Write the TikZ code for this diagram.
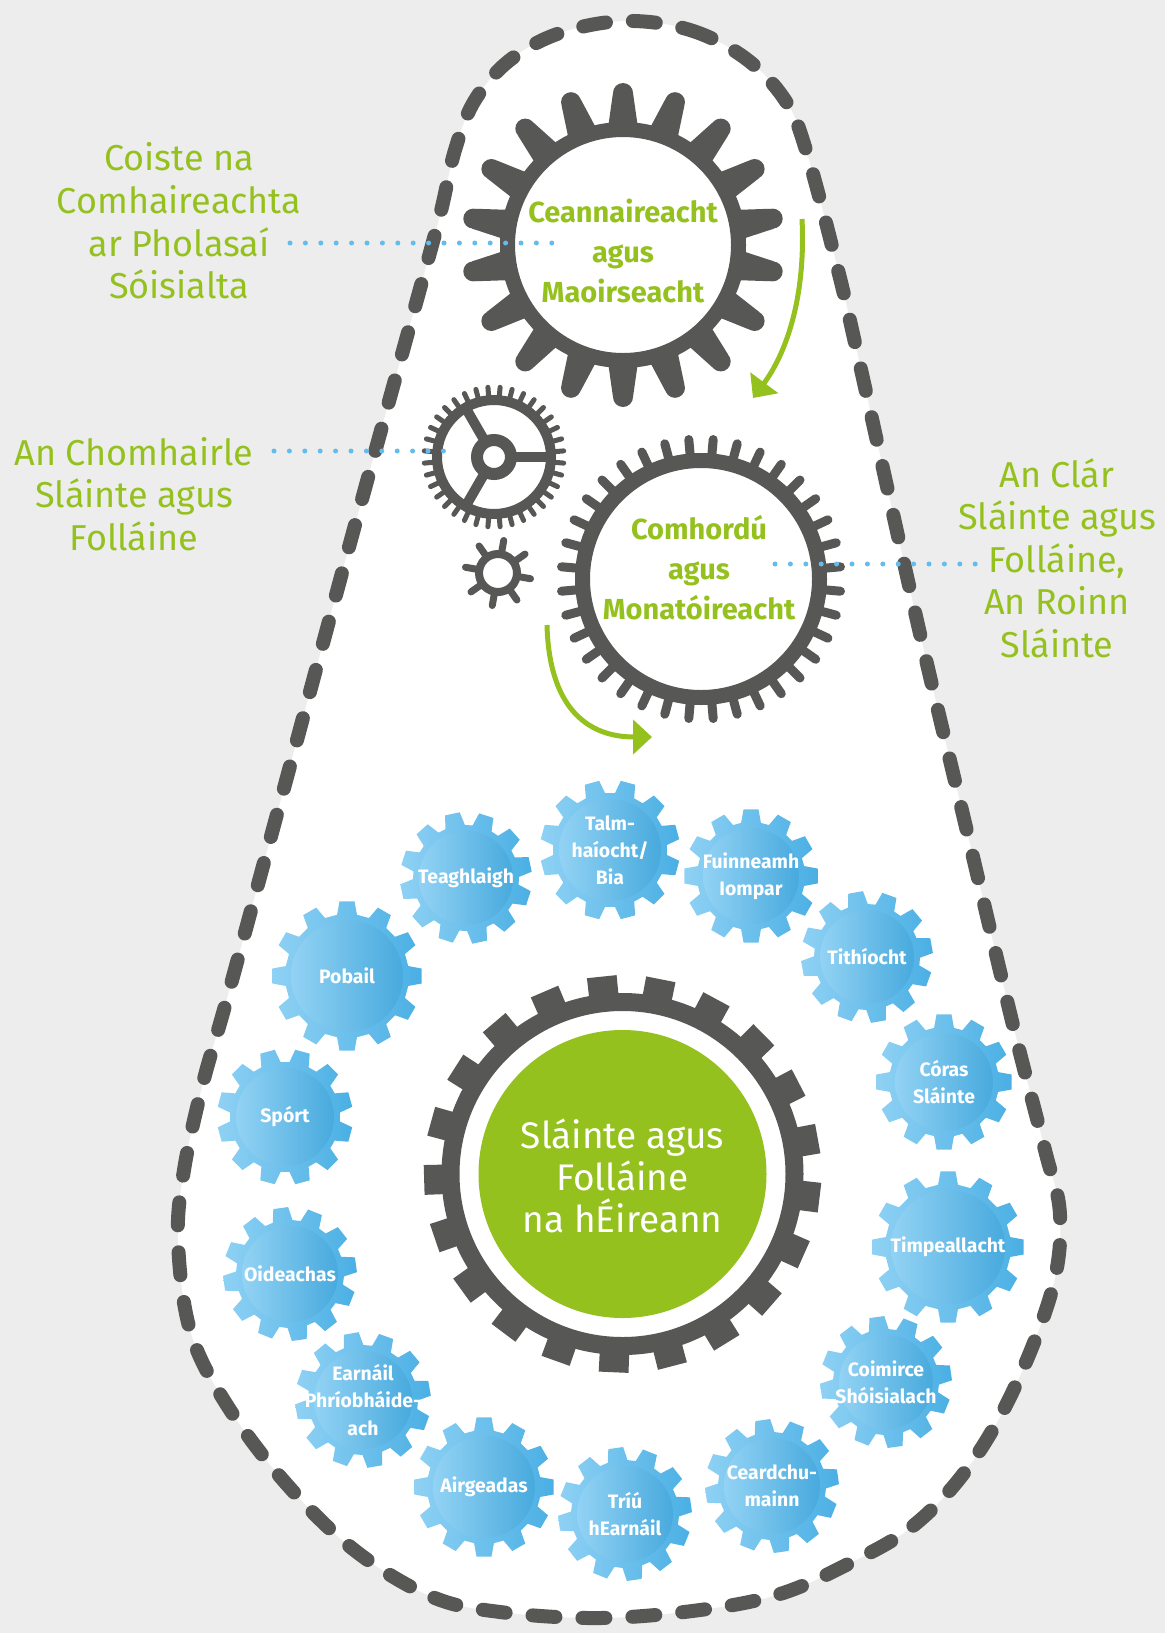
\documentclass[tikz,border=0pt]{standalone}
\usepackage{fontspec}
\setmainfont{Fira Sans}
\usetikzlibrary{arrows.meta,positioning,calc}

\definecolor{bggrey}{HTML}{EDEDED}
\definecolor{cogdark}{HTML}{575756}
\definecolor{leafgreen}{HTML}{95C11F}
\definecolor{dotblue}{HTML}{63BCEB}
\definecolor{skylight}{HTML}{8FD1F4}
\definecolor{skydark}{HTML}{4AAFE4}

\tikzset{
  sidetext/.style={text=leafgreen, align=center, font=\fontsize{18}{21.3}\selectfont},
  geartext/.style={text=leafgreen, align=center, font=\bfseries\fontsize{14.5}{20}\selectfont},
  cogtext/.style={text=white, align=center, inner sep=0pt, font=\bfseries\fontsize{9.7}{13.6}\selectfont},
  hubtext/.style={text=white, align=center, font=\fontsize{18.5}{21}\selectfont},
  dotline/.style={dotblue, line width=2.5pt, line cap=round, dash pattern=on 0pt off 7.7pt},
  turnarrow/.style={leafgreen, line width=2.5pt, -{Triangle[width=17pt,length=9.5pt]}},
  eggline/.style={cogdark, line width=7pt, line cap=round, dash pattern=on 11.5pt off 13.5pt},
}

% blue gear: name, centre, tip radius, turn, text
\newcommand{\bluecog}[5]{%
  \pgfmathsetmacro{\cogrb}{#3-13}
  \pgfmathsetmacro{\cogri}{#3-19}
  \pgfmathsetmacro{\cogtip}{7.5/#3*57.3}
  \pgfmathsetmacro{\cogbase}{10/\cogrb*57.3}
  \begin{scope}[shift={(#2)}]
    \shade[left color=skylight, right color=skydark]
      ({-#4+\cogbase}:\cogrb) \foreach \k in {0,...,11}{
        -- ({-#4-\k*30+\cogbase}:\cogrb) -- ({-#4-\k*30+\cogtip}:#3)
        -- ({-#4-\k*30-\cogtip}:#3) -- ({-#4-\k*30-\cogbase}:\cogrb)} -- cycle;
    \shade[left color=skylight!97!white, right color=skydark!97!black] (0,0) circle[radius=\cogri];
  \end{scope}
  \node[cogtext] (#1) at (#2) {#5};
}

\begin{document}
\begin{tikzpicture}[x=0.5pt, y=-0.5pt]
    % Background
    \useasboundingbox (0,0) rectangle (1165,1633);
    \fill[bggrey] (0,0) rectangle (1165,1633);
    % Dashed outline
    \draw[eggline, fill=white] plot[smooth cycle, tension=0.6] coordinates {
      (625,21) (690,30) (745,58) (785,100) (806,150) (837,266) (860,365) (918,625)
      (965,823) (1012,1021) (1045,1150) (1060,1215) (1052,1290) (1013,1391)
      (967,1469) (913,1526) (850,1563) (780,1594) (700,1610) (600,1618) (500,1612)
      (430,1596) (353,1549) (283,1480) (225,1402) (190,1330) (178,1240) (184,1170)
      (203,1083) (228,995) (290,766) (352,536) (415,307) (440,215) (455,150)
      (475,100) (510,60) (560,33)};
    % Central gear
    \begin{scope}[shift={(622.5,1174)}]
      \fill[leafgreen] (0,0) circle[radius=144];
      \draw[cogdark, line width=9pt] (0,0) circle[radius=172];
      \foreach \k in {0,...,20} {
        \pgfmathsetmacro{\ang}{-96-\k*360/21}
        \fill[cogdark] ({\ang-4.8}:176) -- ({\ang-4.3}:199) -- ({\ang+4.3}:199) -- ({\ang+4.8}:176) -- cycle;
      }
    \end{scope}
    \node[hubtext] (health) at (622.5,1176) {Sláinte agus\\Folláine\\na hÉireann};
    % Sector gears
    \bluecog{teaghlaigh}{466,878}{66}{12}{Teaghlaigh}
    \bluecog{talmh}{610,850}{70}{15}{Talm-\\haíocht/\\Bia}
    \bluecog{fuinneamh}{751,876}{67}{0}{Fuinneamh\\Iompar}
    \bluecog{tithiocht}{867,957}{66}{10}{Tithíocht}
    \bluecog{coras}{944,1082}{68}{0}{Córas\\Sláinte}
    \bluecog{timpeall}{948,1247}{76}{0}{Timpeallacht}
    \bluecog{coimirce}{886,1382}{66}{8}{Coimirce\\Shóisialach}
    \bluecog{ceard}{772,1486}{67}{8}{Ceardchu-\\mainn}
    \bluecog{triu}{625,1514}{67}{8}{Tríú\\hEarnáil}
    \bluecog{airgead}{484,1487}{70}{0}{Airgeadas}
    \bluecog{earnail}{363,1400}{68}{10}{Earnáil\\Phríobháide-\\ach}
    \bluecog{oideachas}{290,1274}{67}{8}{Oideachas}
    \bluecog{sport}{285,1117}{68}{15}{Spórt}
    \bluecog{pobail}{347,976}{75}{0}{Pobail}
    % Leadership gear
    \begin{scope}[shift={(623,245)}]
      \draw[cogdark, line width=7.5pt] (0,0) circle[radius=115.5];
      \foreach \ang in {10,30,...,350}
        \fill[cogdark] ({\ang-7.3}:118) -- ({\ang-3.8}:152) -- ({\ang+3.8}:152) -- ({\ang+7.3}:118) -- cycle
          (\ang:152) circle[radius=10];
    \end{scope}
    \node[geartext] (lead) at (623,251) {Ceannaireacht\\agus\\Maoirseacht};
    % Spoked gear
    \begin{scope}[shift={(494,457)}]
      \draw[cogdark, line width=5pt] (0,0) circle[radius=57];
      \foreach \ang in {5,15,...,355}
        \draw[cogdark, line width=2.5pt, line cap=round] (\ang:60) -- (\ang:70);
      \draw[cogdark, line width=6pt] (0,0) circle[radius=17];
      \foreach \ang in {0,120,240}
        \draw[cogdark, line width=5pt] (\ang:22) -- (\ang:54);
    \end{scope}
    % Small gear
    \begin{scope}[shift={(498,573)}]
      \draw[cogdark, line width=4pt] (0,0) circle[radius=19];
      \foreach \ang in {10,55,...,325}
        \draw[cogdark, line width=3.5pt, line cap=round] (\ang:21) -- (\ang:33);
    \end{scope}
    % Coordination gear
    \begin{scope}[shift={(701,579)}]
      \draw[cogdark, line width=7.5pt] (0,0) circle[radius=118.5];
      \foreach \ang in {5,15,...,355}
        \draw[cogdark, line width=4.5pt, line cap=round] (\ang:124) -- (\ang:140);
    \end{scope}
    \node[geartext] (coord) at (699,568) {Comhordú\\agus\\Monatóireacht};
    % Turning arrows
    \coordinate (leadTurn) at (802,219);
    \coordinate (coordIn) at (753,398);
    \coordinate (coordTurn) at (547,625);
    \coordinate (cogsIn) at (652,737);
    \draw[turnarrow] (leadTurn) .. controls (806,300) and (785,355) .. (coordIn);
    \draw[turnarrow] (coordTurn) .. controls (549,705) and (585,737) .. (cogsIn);
    % Side labels
    \node[sidetext] (coiste) at (179,221) {Coiste na\\Comhaireachta\\ar Pholasaí\\Sóisialta};
    \node[sidetext] (council) at (134,494) {An Chomhairle\\Sláinte agus\\Folláine};
    \node[sidetext] (programme) at (1057,558) {An Clár\\Sláinte agus\\Folláine,\\An Roinn\\Sláinte};
    % Dotted leaders
    \coordinate (coisteDot) at (290,243);
    \coordinate (leadDot) at (553,243);
    \coordinate (councilDot) at (274,451);
    \coordinate (spokeDot) at (446,451);
    \coordinate (coordDot) at (775,564);
    \coordinate (programmeDot) at (979,564);
    \draw[dotline] (coisteDot) -- (leadDot);
    \draw[dotline] (councilDot) -- (spokeDot);
    \draw[dotline] (coordDot) -- (programmeDot);
\end{tikzpicture}
\end{document}
